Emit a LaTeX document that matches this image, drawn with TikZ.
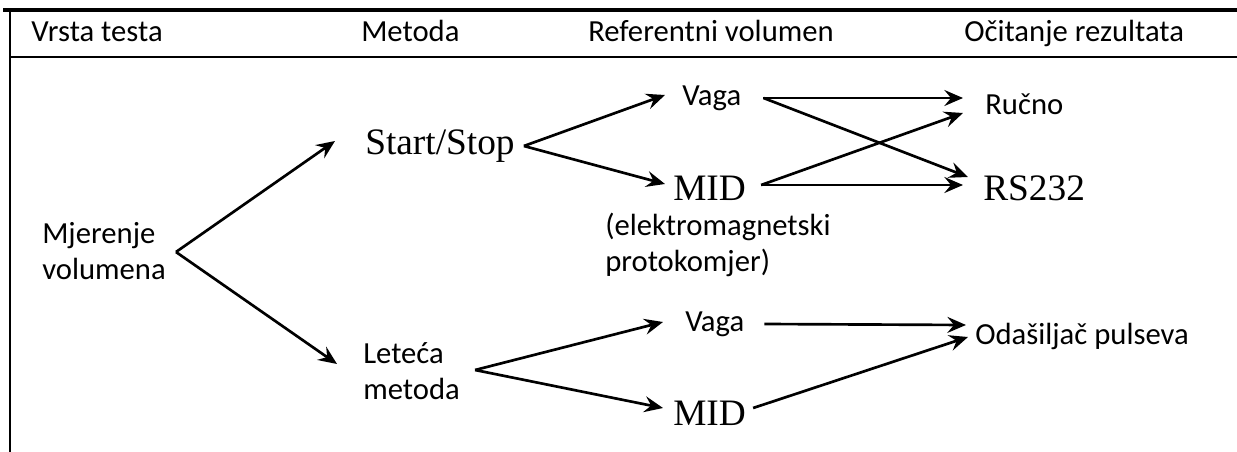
\documentclass[tikz,border=0pt]{standalone}
\usepackage{fontspec}
\usetikzlibrary{arrows.meta,calc}
\newfontfamily\calfont{Carlito}
\newfontfamily\tmsfont{Liberation Serif}
\begin{document}
\begin{tikzpicture}[x=0.75pt,y=-0.75pt,
  sans/.style={inner sep=0pt,anchor=west,font=\calfont\fontsize{23}{27}\selectfont,align=left},
  head/.style={inner sep=0pt,anchor=base west,font=\calfont\fontsize{23}{27}\selectfont},
  serif/.style={inner sep=0pt,anchor=west,font=\tmsfont\fontsize{28}{32}\selectfont},
  arr/.style={line width=2pt,-{Stealth[length=14pt,width=12pt,inset=5pt]}},
  frame/.style={line width=2pt}]
\useasboundingbox (0,0) rectangle (1237,452);
% frame
\draw[line width=2.3pt] (3,10) -- (1237,10);
\draw[frame] (10,9) -- (10,452);
\draw[frame] (10,57) -- (1237,57);
% header
\node[head] (vt) at (31,42) {Vrsta testa};
\node[head] (me) at (361,42) {Metoda};
\node[head] (rv) at (588,42) {Referentni volumen};
\node[head] (or) at (964,42) {Očitanje rezultata};
% nodes
\node[sans] (mj) at (42,251) {Mjerenje\\volumena};
\node[serif] (ss) at (365,146) {Start/Stop};
\node[sans] (lm) at (363,371) {Leteća\\metoda};
\node[sans] (v1) at (682,98) {Vaga};
\node[serif] (d1) at (673,188) {MID};
\node[sans] (em) at (605,245) {(elektromagnetski\\protokomjer)};
\node[sans] (ru) at (985,104) {Ručno};
\node[serif] (rs) at (983,188) {RS232};
\node[sans] (v2) at (685,324) {Vaga};
\node[serif] (d2) at (673,413) {MID};
\node[sans] (op) at (975,336) {Odašiljač pulseva};
% connectors
\draw[arr] ($(mj.east)+(10,1)$) -- ($(ss.west)+(-30,-5)$);
\draw[arr] ($(mj.east)+(10,1)$) -- ($(lm.west)+(-26,-7)$);
\draw[arr] ($(ss.east)+(9,0)$) -- ($(v1.west)+(-17,-3)$);
\draw[arr] ($(ss.east)+(9,0)$) -- ($(d1.west)+(-8,-4)$);
\draw[arr] ($(v1.east)+(22,0)$) -- ($(ru.west)+(-22,-6)$);
\draw[arr] ($(v1.east)+(22,0)$) -- ($(rs.west)+(-15,-11)$);
\draw[arr] ($(d1.east)+(15,-3)$) -- ($(ru.west)+(-22,9)$);
\draw[arr] ($(d1.east)+(15,-3)$) -- ($(rs.west)+(-20,-3)$);
\draw[arr] ($(lm.east)+(15,-1)$) -- ($(v2.west)+(-22,-2)$);
\draw[arr] ($(lm.east)+(15,-1)$) -- ($(d2.west)+(-10,-5)$);
\draw[arr] ($(v2.east)+(20,0)$) -- ($(op.west)+(-9,-11)$);
\draw[arr] ($(d2.east)+(7,-5)$) -- ($(op.west)+(-7,1)$);
\end{tikzpicture}
\end{document}
